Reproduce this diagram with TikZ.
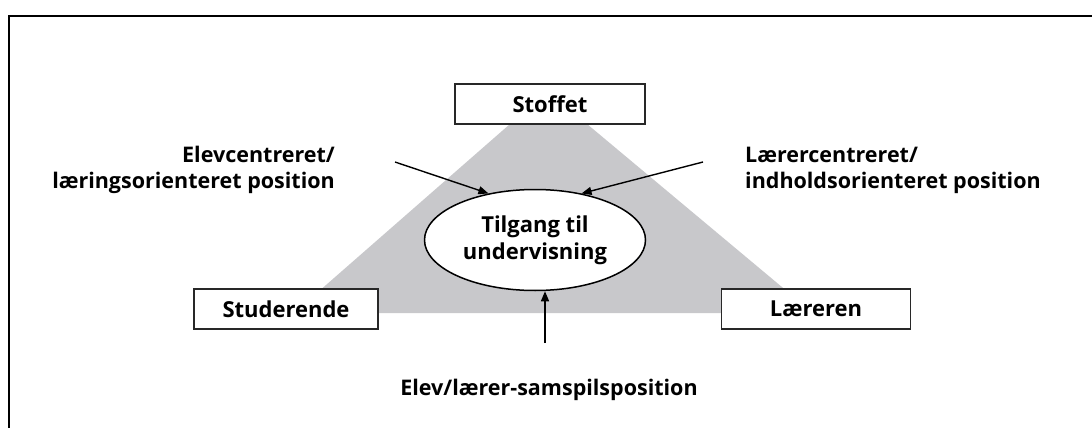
\documentclass[tikz,border=0pt]{standalone}
\usepackage{fontspec}
\setmainfont{Open Sans}
\usetikzlibrary{shapes.geometric,arrows.meta}
\definecolor{triangle}{RGB}{200,200,203}
\definecolor{boxline}{RGB}{40,40,40}
\tikzset{
  labelbox/.style={draw=boxline, line width=1.3pt, fill=white, inner sep=0pt,
    minimum height=40pt, font=\fontsize{22}{26}\selectfont\bfseries},
  centre/.style={ellipse, draw=black, line width=1.5pt, fill=white, inner sep=0pt,
    minimum width=221pt, minimum height=101pt, align=center,
    font=\fontsize{22}{27}\selectfont\bfseries},
  position/.style={inner sep=0pt, font=\fontsize{21.5}{26}\selectfont\bfseries},
  pointer/.style={draw=black, line width=1.4pt, -{Triangle[length=10pt,width=8pt]}},
}
\begin{document}
\begin{tikzpicture}[x=1pt,y=-1pt]
  \useasboundingbox (0,0) rectangle (1092,428);
  % frame
  \draw[line width=2pt] (9,428) -- (9,16) -- (1092,16);
  % shaded triangle behind the nodes
  \fill[triangle] (510,124) -- (587,124) -- (813,313) -- (294,313) -- cycle;
  % corner boxes
  \node[labelbox, minimum width=190pt] (stoffet) at (550,104) {Stoffet};
  \node[labelbox, minimum width=184pt] (stud) at (286,309) {Studerende};
  \node[labelbox, minimum width=189pt] (laer) at (816,309) {Læreren};
  % centre
  \node[centre] (tilgang) at (535,240) {Tilgang til\\undervisning};
  % position labels
  \node[position, align=right, anchor=east] (elev) at (335,170)
    {Elevcentreret/\\læringsorienteret position};
  \node[position, align=left, anchor=west] (laerer) at (745,170)
    {Lærercentreret/\\indholdsorienteret position};
  \node[position] (samspil) at (549,390) {Elev/lærer-samspilsposition};
  % arrows towards the centre
  \coordinate (a1) at (395,162);
  \coordinate (a2) at (703,162);
  \coordinate (a3) at (545,343);
  \draw[pointer] (a1) -- (tilgang.135);
  \draw[pointer] (a2) -- (tilgang.45);
  \draw[pointer] (a3) -- (a3 |- tilgang.south);
\end{tikzpicture}
\end{document}
